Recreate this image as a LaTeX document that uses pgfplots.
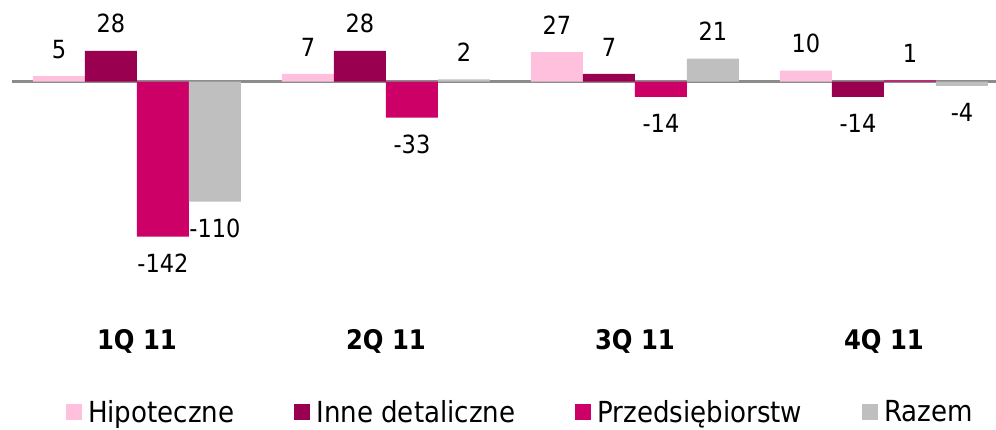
\documentclass[border=0pt]{standalone}
\usepackage{fontspec}
\setmainfont{DejaVu Sans Condensed}
\usepackage{pgfplots}
\pgfplotsset{compat=1.18}
\definecolor{cHip}{HTML}{FFC0DE}
\definecolor{cInne}{HTML}{990050}
\definecolor{cPrz}{HTML}{CC0066}
\definecolor{cRaz}{HTML}{BFBFBF}
\definecolor{cLine}{HTML}{8C8C8C}
\begin{document}
\begin{tikzpicture}
\path[use as bounding box] (0,0) rectangle (996pt,430pt);
\begin{axis}[
  at={(12.5pt,430pt)}, anchor=north west,
  scale only axis, width=983.5pt, height=250pt,
  xmin=-0.5, xmax=3.45, ymin=-154.2, ymax=74.7,
  clip=false,
  axis line style={draw=none}, major tick length=0pt,
  ytick=\empty,
  extra y ticks={0}, extra y tick labels={},
  extra y tick style={grid=major, major grid style={cLine, line width=2.5pt}},
  xtick={0,1,2,3}, xticklabels={1Q 11,2Q 11,3Q 11,4Q 11},
  xticklabel style={font=\fontsize{27}{32}\selectfont\bfseries, anchor=base, yshift=-100pt},
  ybar=0pt, bar width=52pt,
  /pgf/number format/assume math mode=true,
  nodes near coords, nodes near coords align={vertical},
  every node near coord/.append style={font=\fontsize{25}{30}\selectfont, inner sep=17.5pt, text=black},
  legend columns=4,
  legend style={at={(0.5165,-0.648)}, anchor=center, draw=none, fill=none,
    font=\fontsize{29}{34}\selectfont, inner sep=0pt,
    nodes={inner sep=2pt},
    /tikz/every odd column/.append style={column sep=4pt},
    /tikz/every even column/.append style={column sep=58pt}},
  legend image code/.code={\fill[#1] (0pt,-8pt) rectangle (16pt,8pt);},
]
\addplot[fill=cHip, draw=none] coordinates {(0,5) (1,7) (2,27) (3,10)};
\addplot[fill=cInne, draw=none] coordinates {(0,28) (1,28) (2,7) (3,-14)};
\addplot[fill=cPrz, draw=none] coordinates {(0,-142) (1,-33) (2,-14) (3,1)};
\addplot[fill=cRaz, draw=none] coordinates {(0,-110) (1,2) (2,21) (3,-4)};
\legend{Hipoteczne, Inne detaliczne, Przedsiębiorstw, Razem}
\end{axis}
\end{tikzpicture}
\end{document}
